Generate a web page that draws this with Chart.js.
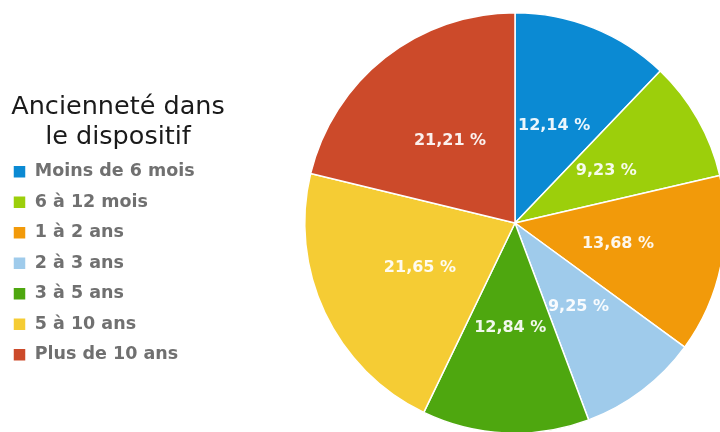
<!DOCTYPE html>
<html lang="fr">
<head>
<meta charset="utf-8">
<script src="https://cdn.jsdelivr.net/npm/chart.js@4/dist/chart.umd.min.js"></script>
<style>
    html, body { margin: 0; padding: 0; background: #fff; }
    #wrap { position: relative; width: 720px; height: 432px; overflow: hidden; }
    #anciennete { position: absolute; left: 0; top: 0; }
</style>
</head>
<body>
<div id="wrap">
    <canvas id="anciennete" width="794" height="434"></canvas>
</div>
<script>
// Données du graphique
const categories = ['Moins de 6 mois', '6 à 12 mois', '1 à 2 ans', '2 à 3 ans', '3 à 5 ans', '5 à 10 ans', 'Plus de 10 ans'];
const pourcentages = [12.14, 9.23, 13.68, 9.25, 12.84, 21.65, 21.21];
const couleurs = ['#0b8ad3', '#9ccf0b', '#f29a0a', '#9fcbeb', '#4ea70f', '#f5cc34', '#cc4a2a'];
const titreLegende = ['Ancienneté dans', 'le dispositif'];

// Largeur fixe de la légende pour placer le camembert
const largeurLegende = {
    id: 'largeurLegende',
    beforeInit: function(chart) {
        const fitOriginal = chart.legend.fit;
        chart.legend.fit = function() {
            fitOriginal.bind(chart.legend)();
            this.width = 236;
        };
    }
};

// Étiquettes de pourcentage dans les parts
const etiquettes = {
    id: 'etiquettes',
    afterDatasetsDraw: function(chart) {
        const ctx = chart.ctx;
        const meta = chart.getDatasetMeta(0);
        ctx.save();
        ctx.font = 'bold 16px "DejaVu Sans"';
        ctx.fillStyle = 'rgba(255, 255, 255, 0.92)';
        ctx.textAlign = 'center';
        ctx.textBaseline = 'middle';
        meta.data.forEach((arc, i) => {
            const pos = arc.getCenterPoint();
            ctx.fillText(pourcentages[i].toFixed(2).replace('.', ',') + ' %', pos.x, pos.y);
        });
        ctx.restore();
    }
};

new Chart(document.getElementById('anciennete').getContext('2d'), {
    type: 'pie',
    data: {
        labels: categories,
        datasets: [{
            data: pourcentages,
            backgroundColor: couleurs,
            borderColor: '#ffffff',
            borderWidth: 1.5
        }]
    },
    options: {
        responsive: false,
        animation: false,
        layout: {
            padding: { top: 12, right: 0, bottom: 0, left: 0 }
        },
        plugins: {
            legend: {
                position: 'left',
                align: 'center',
                title: {
                    display: true,
                    text: titreLegende,
                    color: '#1a1a1a',
                    padding: 25,
                    font: { family: '"DejaVu Sans"', size: 25.5, lineHeight: 1.2 }
                },
                labels: {
                    boxWidth: 13,
                    boxHeight: 13,
                    padding: 13,
                    color: '#707070',
                    font: { family: '"DejaVu Sans"', size: 17.5, weight: 'bold' }
                }
            },
            tooltip: { enabled: false }
        }
    },
    plugins: [largeurLegende, etiquettes]
});
</script>
</body>
</html>
